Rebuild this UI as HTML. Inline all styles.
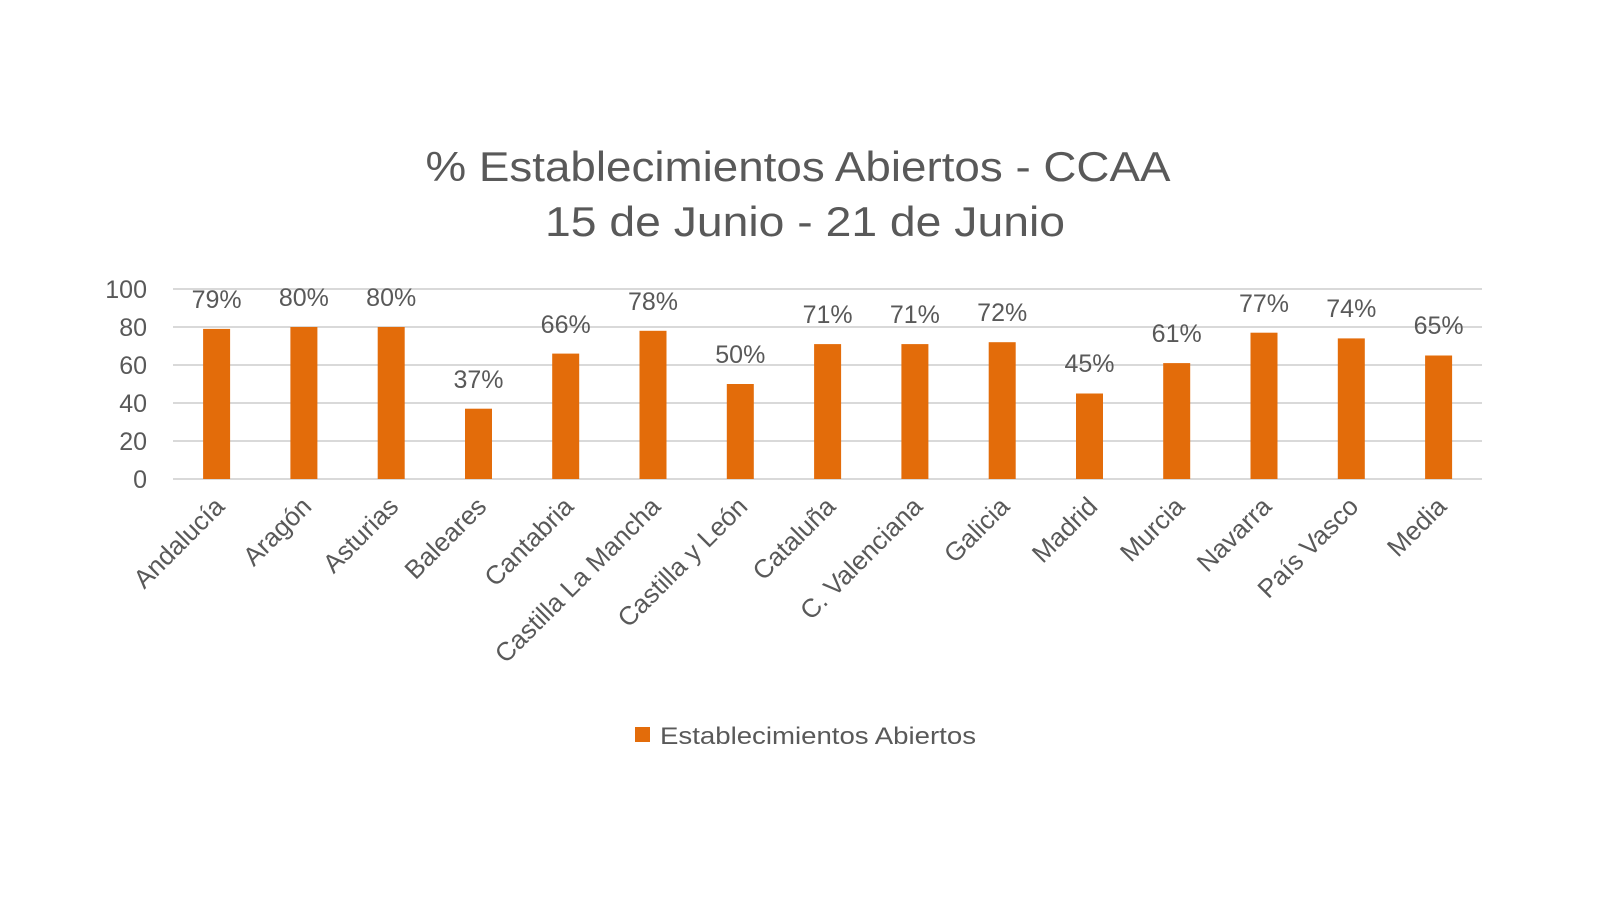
<!DOCTYPE html>
<html><head><meta charset="utf-8"><style>
html,body{margin:0;padding:0;background:#fff;}
svg{display:block;}
text{font-family:"Liberation Sans",sans-serif;fill:#595959;}
</style></head><body>
<svg width="1600" height="900" viewBox="0 0 1600 900">
<text x="798" y="181" font-size="42" text-anchor="middle" textLength="745" lengthAdjust="spacingAndGlyphs">% Establecimientos  Abiertos - CCAA</text>
<text x="805" y="236" font-size="42" text-anchor="middle" textLength="520" lengthAdjust="spacingAndGlyphs">15 de Junio - 21 de Junio</text>
<g stroke="#d9d9d9" stroke-width="2">
<line x1="173" x2="1482" y1="289" y2="289"/>
<line x1="173" x2="1482" y1="327" y2="327"/>
<line x1="173" x2="1482" y1="365" y2="365"/>
<line x1="173" x2="1482" y1="403" y2="403"/>
<line x1="173" x2="1482" y1="441" y2="441"/>
<line x1="173" x2="1482" y1="479" y2="479"/>
</g>
<g font-size="25" text-anchor="end">
<text x="147" y="298">100</text>
<text x="147" y="336">80</text>
<text x="147" y="374">60</text>
<text x="147" y="412">40</text>
<text x="147" y="450">20</text>
<text x="147" y="488">0</text>
</g>
<g fill="#E36C0A">
<rect x="203.1" y="328.9" width="27" height="150.1"/>
<rect x="290.4" y="327" width="27" height="152"/>
<rect x="377.7" y="327" width="27" height="152"/>
<rect x="465" y="408.7" width="27" height="70.3"/>
<rect x="552.2" y="353.6" width="27" height="125.4"/>
<rect x="639.5" y="330.8" width="27" height="148.2"/>
<rect x="726.8" y="384" width="27" height="95"/>
<rect x="814.1" y="344.1" width="27" height="134.9"/>
<rect x="901.4" y="344.1" width="27" height="134.9"/>
<rect x="988.7" y="342.2" width="27" height="136.8"/>
<rect x="1076" y="393.5" width="27" height="85.5"/>
<rect x="1163.2" y="363.1" width="27" height="115.9"/>
<rect x="1250.5" y="332.7" width="27" height="146.3"/>
<rect x="1337.8" y="338.4" width="27" height="140.6"/>
<rect x="1425.1" y="355.5" width="27" height="123.5"/>
</g>
<g font-size="25" text-anchor="middle">
<text x="216.6" y="308">79%</text>
<text x="303.9" y="306">80%</text>
<text x="391.2" y="306">80%</text>
<text x="478.5" y="388">37%</text>
<text x="565.7" y="333">66%</text>
<text x="653" y="310">78%</text>
<text x="740.3" y="363">50%</text>
<text x="827.6" y="323">71%</text>
<text x="914.9" y="323">71%</text>
<text x="1002.2" y="321">72%</text>
<text x="1089.5" y="372">45%</text>
<text x="1176.7" y="342">61%</text>
<text x="1264" y="312">77%</text>
<text x="1351.3" y="317">74%</text>
<text x="1438.6" y="334">65%</text>
</g>
<g font-size="26" text-anchor="end">
<text transform="translate(226,508) rotate(-45)">Andalucía</text>
<text transform="translate(313,508) rotate(-45)">Aragón</text>
<text transform="translate(400,508) rotate(-45)">Asturias</text>
<text transform="translate(488,508) rotate(-45)">Baleares</text>
<text transform="translate(575,508) rotate(-45)">Cantabria</text>
<text transform="translate(662,508) rotate(-45)">Castilla La Mancha</text>
<text transform="translate(749,508) rotate(-45)">Castilla y León</text>
<text transform="translate(837,508) rotate(-45)">Cataluña</text>
<text transform="translate(924,508) rotate(-45)">C. Valenciana</text>
<text transform="translate(1011,508) rotate(-45)">Galicia</text>
<text transform="translate(1099,508) rotate(-45)">Madrid</text>
<text transform="translate(1186,508) rotate(-45)">Murcia</text>
<text transform="translate(1273,508) rotate(-45)">Navarra</text>
<text transform="translate(1360,508) rotate(-45)">País Vasco</text>
<text transform="translate(1448,508) rotate(-45)">Media</text>
</g>
<rect x="635" y="727" width="15" height="15" fill="#E36C0A"/>
<text x="660" y="744" font-size="24" textLength="316" lengthAdjust="spacingAndGlyphs">Establecimientos Abiertos</text>
</svg>
</body></html>
